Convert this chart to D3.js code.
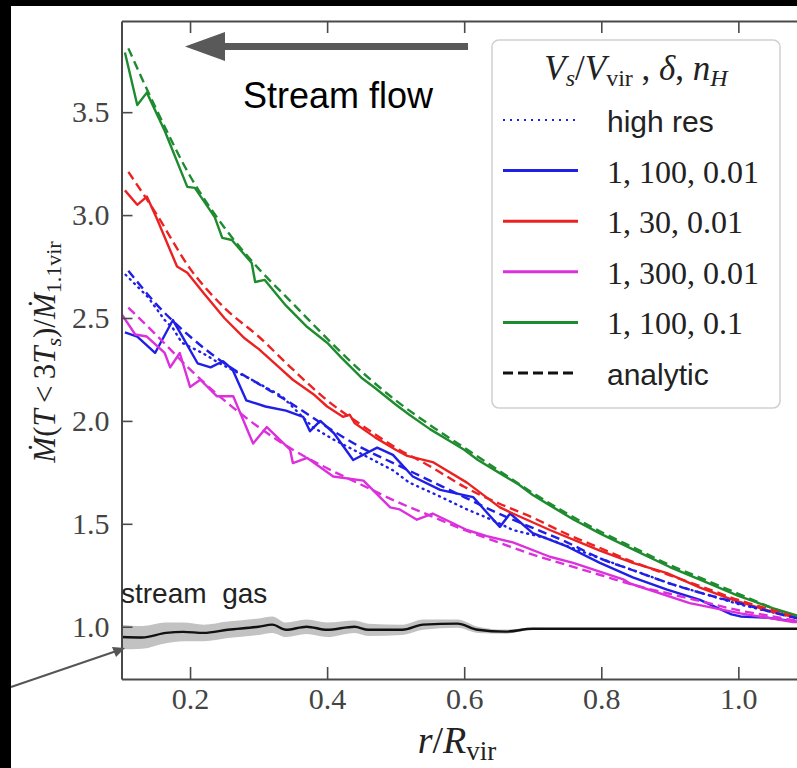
<!DOCTYPE html>
<html><head><meta charset="utf-8">
<script src="https://cdn.jsdelivr.net/npm/d3@7"></script>
<style>body{margin:0;background:#fff} svg{display:block}</style>
</head><body><svg id="c" width="797" height="768"></svg>
<script>
// ---------------- data ----------------
const xTicks = [0.2, 0.4, 0.6, 0.8, 1.0];
const yTicks = [1.0, 1.5, 2.0, 2.5, 3.0, 3.5];

const rAnalytic = [0.11,0.15,0.2,0.25,0.3,0.35,0.4,0.45,0.5,0.55,0.6,0.65,0.7,0.75,0.8,0.85,0.9,0.95,1.0,1.05,1.1];
const greenAnalytic   = [3.81,3.52,3.19,2.94,2.74,2.57,2.40,2.24,2.10,1.98,1.87,1.76,1.65,1.55,1.46,1.38,1.30,1.23,1.16,1.09,1.03];
const redAnalytic     = [3.21,3.01,2.74,2.55,2.41,2.25,2.10,1.98,1.87,1.78,1.68,1.60,1.53,1.45,1.38,1.31,1.25,1.19,1.13,1.08,1.03];
const blueAnalytic    = [2.73,2.57,2.41,2.28,2.18,2.08,1.97,1.87,1.79,1.71,1.63,1.55,1.48,1.41,1.33,1.27,1.21,1.16,1.115,1.07,1.03];
const magentaAnalytic = [2.55,2.42,2.25,2.10,1.97,1.86,1.77,1.69,1.61,1.54,1.47,1.41,1.35,1.30,1.25,1.20,1.16,1.12,1.08,1.05,1.02];

const greenSimR = [0.105,0.123,0.137,0.163,0.196,0.207,0.236,0.247,0.261,0.29,0.295,0.309,0.34,0.371,0.382,0.40,0.42,0.45,0.47,0.5,0.52,0.55,0.58,0.6,0.62,0.65,0.68,0.7,0.73,0.76,0.8,0.85,0.9,0.95,1.0,1.05,1.1];
const greenSimV = [3.79,3.535,3.595,3.41,3.137,3.132,2.99,2.889,2.879,2.767,2.675,2.685,2.56,2.456,2.427,2.38,2.31,2.21,2.16,2.08,2.03,1.96,1.90,1.86,1.81,1.75,1.69,1.64,1.58,1.52,1.45,1.37,1.29,1.22,1.15,1.09,1.04];

const redSimR = [0.105,0.123,0.137,0.152,0.181,0.196,0.22,0.25,0.28,0.30,0.33,0.35,0.38,0.40,0.423,0.433,0.44,0.47,0.5,0.517,0.554,0.604,0.652,0.671,0.725,0.798,0.846,0.896,0.944,0.992,1.042,1.1];
const redSimV = [3.12,3.05,3.09,2.98,2.75,2.72,2.62,2.50,2.40,2.35,2.26,2.20,2.13,2.07,2.02,2.03,1.99,1.92,1.86,1.83,1.80,1.70,1.58,1.55,1.47,1.37,1.31,1.26,1.19,1.13,1.08,1.03];

const blueSimR = [0.105,0.123,0.149,0.175,0.187,0.211,0.23,0.248,0.262,0.282,0.31,0.34,0.365,0.375,0.39,0.41,0.438,0.473,0.496,0.525,0.565,0.613,0.633,0.652,0.667,0.70,0.75,0.798,0.846,0.896,0.944,0.99,1.003,1.042,1.086,1.1];
const blueSimV = [2.43,2.41,2.33,2.49,2.42,2.28,2.26,2.29,2.25,2.10,2.07,2.05,2.02,1.95,2.00,1.94,1.81,1.87,1.835,1.73,1.665,1.63,1.555,1.485,1.55,1.455,1.39,1.31,1.24,1.18,1.13,1.06,1.05,1.044,1.024,1.02];

const hiResR = [0.106,0.139,0.163,0.175,0.188,0.218,0.243,0.29,0.334,0.379,0.409,0.45,0.496,0.52,0.56,0.604,0.64,0.671,0.72,0.8,0.9,1.0,1.1];
const hiResV = [2.71,2.60,2.49,2.45,2.38,2.33,2.28,2.20,2.12,1.97,1.91,1.84,1.76,1.70,1.64,1.57,1.52,1.47,1.43,1.33,1.21,1.11,1.03];

const magentaSimR = [0.1,0.12,0.137,0.163,0.171,0.185,0.2,0.215,0.239,0.263,0.292,0.312,0.346,0.35,0.371,0.409,0.453,0.492,0.506,0.531,0.554,0.604,0.633,0.671,0.725,0.759,0.832,0.842,0.929,1.003,1.08,1.1];
const magentaSimV = [2.52,2.42,2.41,2.33,2.26,2.33,2.165,2.20,2.12,2.12,1.89,1.97,1.86,1.795,1.82,1.73,1.71,1.58,1.57,1.52,1.55,1.47,1.44,1.41,1.34,1.31,1.23,1.21,1.115,1.065,1.023,1.02];

const streamR    = [0.1,0.13,0.165,0.19,0.22,0.255,0.3,0.32,0.34,0.37,0.4,0.44,0.46,0.51,0.54,0.59,0.62,0.66,0.7,0.8,0.9,1.0,1.1];
const streamV    = [0.95,0.948,0.97,0.975,0.97,0.985,1.0,1.01,0.985,1.0,0.985,1.0,0.985,0.985,1.01,1.015,0.985,0.976,0.99,0.99,0.99,0.99,0.99];
const streamLow  = [0.89,0.893,0.92,0.93,0.93,0.945,0.96,0.97,0.95,0.965,0.95,0.97,0.955,0.96,0.985,0.995,0.97,0.966,0.985,0.99,0.99,0.99,0.99];
const streamHigh = [1.01,1.003,1.02,1.02,1.01,1.025,1.04,1.05,1.02,1.035,1.02,1.03,1.015,1.01,1.035,1.035,1.0,0.986,0.995,0.99,0.99,0.99,0.99];

const legendLabels = ["high res", "1, 100, 0.01", "1, 30, 0.01", "1, 300, 0.01", "1, 100, 0.1", "analytic"];
const colors = {blue:"#1f1fe6", red:"#ec2222", magenta:"#dc30dc", green:"#1e8c2e", black:"#111"};

// ---------------- drawing ----------------
const svg = d3.select("#c");
svg.append("rect").attr("width",797).attr("height",768).attr("fill","#fff");

const x = d3.scaleLinear().domain([0.1, 1.1]).range([121.5, 806.9]);
const y = d3.scaleLinear().domain([0.746, 3.943]).range([679, 21]);

svg.append("clipPath").attr("id","clip").append("rect")
  .attr("x",x(0.1)).attr("y",y(3.943)).attr("width",x(1.1)-x(0.1)).attr("height",y(0.746)-y(3.943));

const plot = svg.append("g").attr("clip-path","url(#clip)");
const line = d3.line().x(d=>x(d[0])).y(d=>y(d[1]));
const smooth = d3.line().x(d=>x(d[0])).y(d=>y(d[1])).curve(d3.curveMonotoneX);

// stream gas band + line
plot.append("path")
  .datum(d3.zip(streamR, streamLow, streamHigh))
  .attr("d", d3.area().x(d=>x(d[0])).y0(d=>y(d[1])).y1(d=>y(d[2])).curve(d3.curveMonotoneX))
  .attr("fill","#c2c2c2");
plot.append("path").datum(d3.zip(streamR, streamV))
  .attr("d", smooth).attr("fill","none").attr("stroke","#111").attr("stroke-width",2.4);

function sim(r, v, color, dash) {
  const p = plot.append("path").datum(d3.zip(r, v)).attr("d", line)
    .attr("fill","none").attr("stroke",color).attr("stroke-width",2.4).attr("stroke-linejoin","round");
  if (dash) p.attr("stroke-dasharray", dash).attr("stroke-linecap","round");
}
sim(hiResR, hiResV, colors.blue, "1,5");
sim(blueSimR, blueSimV, colors.blue);
sim(redSimR, redSimV, colors.red);
sim(magentaSimR, magentaSimV, colors.magenta);
sim(greenSimR, greenSimV, colors.green);

function analytic(v, color) {
  plot.append("path").datum(d3.zip(rAnalytic, v)).attr("d", smooth)
    .attr("fill","none").attr("stroke",color).attr("stroke-width",2.4).attr("stroke-dasharray","9,5");
}
analytic(greenAnalytic, colors.green);
analytic(redAnalytic, colors.red);
analytic(blueAnalytic, colors.blue);
analytic(magentaAnalytic, colors.magenta);

// axes
const axisColor = "#4a4a4a";
function styleAxis(g) {
  g.selectAll("path.domain").attr("stroke",axisColor).attr("stroke-width",2);
  g.selectAll(".tick line").attr("stroke",axisColor).attr("stroke-width",1.6);
  g.selectAll(".tick text").attr("fill","#444").style("font-family","'Liberation Serif', serif").style("font-size","30px");
}
svg.append("g").attr("transform",`translate(${x(0.1)},0)`)
  .call(d3.axisLeft(y).tickValues(yTicks).tickFormat(d3.format(".1f")).tickSize(-11).tickSizeOuter(0).tickPadding(12))
  .call(styleAxis);
svg.append("g").attr("transform",`translate(0,${y(0.746)})`)
  .call(d3.axisBottom(x).tickValues(xTicks).tickFormat(d3.format(".1f")).tickSize(-12).tickSizeOuter(0).tickPadding(9))
  .call(styleAxis);
svg.append("g").attr("transform",`translate(0,${y(3.943)})`)
  .call(d3.axisTop(x).tickValues(xTicks).tickFormat("").tickSize(-12).tickSizeOuter(0))
  .call(styleAxis);

// axis labels
const serif = "'Liberation Serif', 'DejaVu Serif', serif";
const yl = svg.append("text").attr("transform","translate(55,352) rotate(-90)")
  .attr("text-anchor","middle").style("font-family",serif).style("font-size","31px").attr("fill","#222");
yl.append("tspan").style("font-style","italic").text("Ṁ");
yl.append("tspan").text("(");
yl.append("tspan").style("font-style","italic").text("T");
yl.append("tspan").text("\u2009<\u20093");
yl.append("tspan").style("font-style","italic").text("T");
yl.append("tspan").style("font-style","italic").style("font-size","22px").attr("dy",6).text("s");
yl.append("tspan").attr("dy",-6).text(")/");
yl.append("tspan").style("font-style","italic").text("Ṁ");
yl.append("tspan").style("font-size","22px").attr("dy",6).text("1.1vir");

const xl = svg.append("text").attr("x",457).attr("y",753)
  .attr("text-anchor","middle").style("font-family",serif).style("font-size","38px").attr("fill","#222");
xl.append("tspan").style("font-style","italic").text("r");
xl.append("tspan").text("/");
xl.append("tspan").style("font-style","italic").text("R");
xl.append("tspan").style("font-size","27px").attr("dy",7).text("vir");

// stream gas label
svg.append("text").attr("x",121).attr("y",603).style("white-space","pre")
  .style("font-family","'Liberation Sans', sans-serif").style("font-size","28px").attr("fill","#222")
  .text("stream  gas");

// legend
const lg = svg.append("g");
lg.append("rect").attr("x",492).attr("y",40).attr("width",288).attr("height",368).attr("rx",7)
  .attr("fill","#fff").attr("fill-opacity",0.85).attr("stroke","#cfcfcf").attr("stroke-width",1.5);
const lt = lg.append("text").attr("x",636).attr("y",80).attr("text-anchor","middle")
  .style("font-family",serif).style("font-size","35px").attr("fill","#222");
lt.append("tspan").style("font-style","italic").text("V");
lt.append("tspan").style("font-style","italic").style("font-size","24px").attr("dy",6).text("s");
lt.append("tspan").attr("dy",-6).text("/");
lt.append("tspan").style("font-style","italic").text("V");
lt.append("tspan").style("font-size","24px").attr("dy",6).text("vir");
lt.append("tspan").attr("dy",-6).text(" , ");
lt.append("tspan").style("font-style","italic").text("δ");
lt.append("tspan").text(", ");
lt.append("tspan").style("font-style","italic").text("n");
lt.append("tspan").style("font-style","italic").style("font-size","24px").attr("dy",6).text("H");

const legendStyles = [
  {color:colors.blue, dash:"2,5", sans:true},
  {color:colors.blue},
  {color:colors.red},
  {color:colors.magenta},
  {color:colors.green},
  {color:colors.black, dash:"10,5", sans:true}
];
const ly = d3.scalePoint().domain(d3.range(legendLabels.length)).range([120, 373]);
legendLabels.forEach((lab, i) => {
  const st = legendStyles[i];
  const l = lg.append("line").attr("x1",503).attr("x2",578).attr("y1",ly(i)).attr("y2",ly(i))
    .attr("stroke",st.color).attr("stroke-width",3);
  if (st.dash) l.attr("stroke-dasharray",st.dash).attr("stroke-width", st.sans && i===0 ? 2.2 : 3);
  lg.append("text").attr("x",607).attr("y",ly(i)+12)
    .style("font-family", st.sans ? "'Liberation Sans', sans-serif" : serif)
    .style("font-size", st.sans ? "30px" : "32px").attr("fill","#222").text(lab);
});

// annotations (added on top of the figure)
svg.append("rect").attr("x",222).attr("y",43).attr("width",246).attr("height",7).attr("fill","#595959");
svg.append("path").attr("d","M185,46.5 L225,32 L225,61 Z").attr("fill","#595959");
svg.append("text").attr("x",243).attr("y",108).style("font-family","'Liberation Sans', Arial, sans-serif")
  .style("font-size","36px").attr("fill","#000").text("Stream flow");

svg.append("line").attr("x1",11).attr("y1",687).attr("x2",115).attr("y2",651.5).attr("stroke","#555").attr("stroke-width",2);
svg.append("path").attr("d","M125,648 L112,647 L116,657 Z").attr("fill","#555");

// black frame edges
svg.append("rect").attr("x",0).attr("y",0).attr("width",11).attr("height",768).attr("fill","#000");
svg.append("rect").attr("x",0).attr("y",0).attr("width",797).attr("height",6).attr("fill","#000");
</script></body></html>
